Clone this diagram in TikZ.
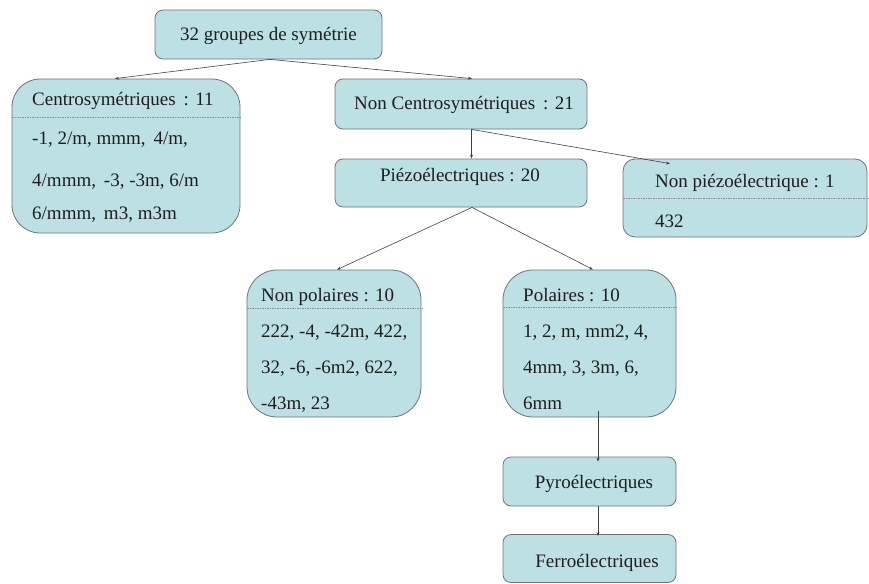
\documentclass[tikz,border=0pt]{standalone}
\usepackage{fontspec}
\newfontfamily\diagfont{Liberation Serif}
\usetikzlibrary{arrows.meta,calc}
\definecolor{boxfill}{HTML}{BCE0E4}
\definecolor{boxline}{HTML}{6E7373}
\definecolor{txt}{HTML}{1E1E1E}
\tikzset{
  box/.style={draw=boxline, fill=boxfill, line width=0.8pt, inner sep=0pt},
  lbl/.style={font=\diagfont\fontsize{19}{22}\selectfont, text=txt, inner sep=0pt},
  lleft/.style={lbl, anchor=base west},
  sep/.style={draw=boxline!80, line width=0.6pt, dash pattern=on 1.5pt off 1pt},
  arr/.style={draw=black!75, line width=0.6pt, -{Stealth[length=4pt,width=3pt]}}
}
\begin{document}
\begin{tikzpicture}[x=1pt,y=-1pt]
\useasboundingbox (0,0) rectangle (869,583);
% boxes
\node[box, rounded corners=8pt, minimum width=227pt, minimum height=49pt] (top) at (268.5,34.5) {};
\node[box, rounded corners=28pt, minimum width=228pt, minimum height=154pt] (centro) at (126,156) {};
\node[box, rounded corners=8pt, minimum width=252pt, minimum height=50pt] (noncentro) at (461,104) {};
\node[box, rounded corners=8pt, minimum width=252pt, minimum height=48pt] (piezo) at (461,183) {};
\node[box, rounded corners=12pt, minimum width=244pt, minimum height=78pt] (nonpiezo) at (745,198) {};
\node[box, rounded corners=30pt, minimum width=174pt, minimum height=147pt] (nonpol) at (334,343.5) {};
\node[box, rounded corners=30pt, minimum width=173pt, minimum height=147pt] (pol) at (589.5,343.5) {};
\node[box, rounded corners=8pt, minimum width=173pt, minimum height=49pt] (pyro) at (589.5,481.5) {};
\node[box, rounded corners=8pt, minimum width=173pt, minimum height=48pt] (ferro) at (589.5,558.5) {};
% separators
\coordinate (c1) at (12,117); \coordinate (c2) at (240,117);
\draw[sep] (c1) -- (c2);
\coordinate (np1) at (623,198); \coordinate (np2) at (869,198);
\draw[sep] (np1) -- (np2);
\coordinate (nl1) at (247,308); \coordinate (nl2) at (423,308);
\draw[sep] (nl1) -- (nl2);
\coordinate (pl1) at (503,307); \coordinate (pl2) at (678,307);
\draw[sep] (pl1) -- (pl2);
% texts (baselines)
\node[lbl, anchor=base] (ttop) at (268.5,41) {32 groupes de symétrie};
\node[lleft] (tc0) at (32,106) {Centrosymétriques\, : 11};
\node[lleft] (tc1) at (32,144) {-1, 2/m, mmm,\, 4/m,};
\node[lleft] (tc2) at (32,186) {4/mmm,\, -3, -3m, 6/m};
\node[lleft] (tc3) at (32,219) {6/mmm,\, m3, m3m};
\node[lbl, anchor=base] (tnc) at (464,110) {Non Centrosymétriques\, : 21};
\node[lbl, anchor=base] (tpz) at (460,181) {Piézoélectriques : 20};
\node[lleft] (tnp0) at (655,187) {Non piézoélectrique : 1};
\node[lleft] (tnp1) at (655,227) {432};
\node[lleft] (tnl0) at (261,301) {Non polaires : 10};
\node[lleft] (tnl1) at (261,337) {222, -4, -42m, 422,};
\node[lleft] (tnl2) at (261,373) {32, -6, -6m2, 622,};
\node[lleft] (tnl3) at (261,409) {-43m, 23};
\node[lleft] (tpl0) at (523,301) {Polaires : 10};
\node[lleft] (tpl1) at (523,337) {1, 2, m, mm2, 4,};
\node[lleft] (tpl2) at (523,373) {4mm, 3, 3m, 6,};
\node[lleft] (tpl3) at (523,409) {6mm};
\node[lbl, anchor=base] (tpy) at (594,488) {Pyroélectriques};
\node[lbl, anchor=base] (tfe) at (597,567) {Ferroélectriques};
% connectors
\draw[arr] ([xshift=1.5pt]top.south) -- ([xshift=-11pt]centro.north);
\draw[arr] ([xshift=1.5pt]top.south) -- ([xshift=11pt]noncentro.north);
\draw[arr] ([xshift=10.5pt]noncentro.south) -- ([xshift=10.5pt]piezo.north);
\draw[arr] ([xshift=10.5pt]noncentro.south) -- ([xshift=-75pt,yshift=-5pt]nonpiezo.north);
\draw[arr] ([xshift=11pt]piezo.south) -- ([xshift=3pt]nonpol.north);
\draw[arr] ([xshift=11pt]piezo.south) -- ([xshift=3.5pt]pol.north);
\draw[arr] ([xshift=8.5pt,yshift=6pt]pol.south) -- ([xshift=8.5pt,yshift=-5pt]pyro.north);
\draw[arr] ([xshift=8.5pt]pyro.south) -- ([xshift=8.5pt,yshift=-2pt]ferro.north);
\end{tikzpicture}
\end{document}
